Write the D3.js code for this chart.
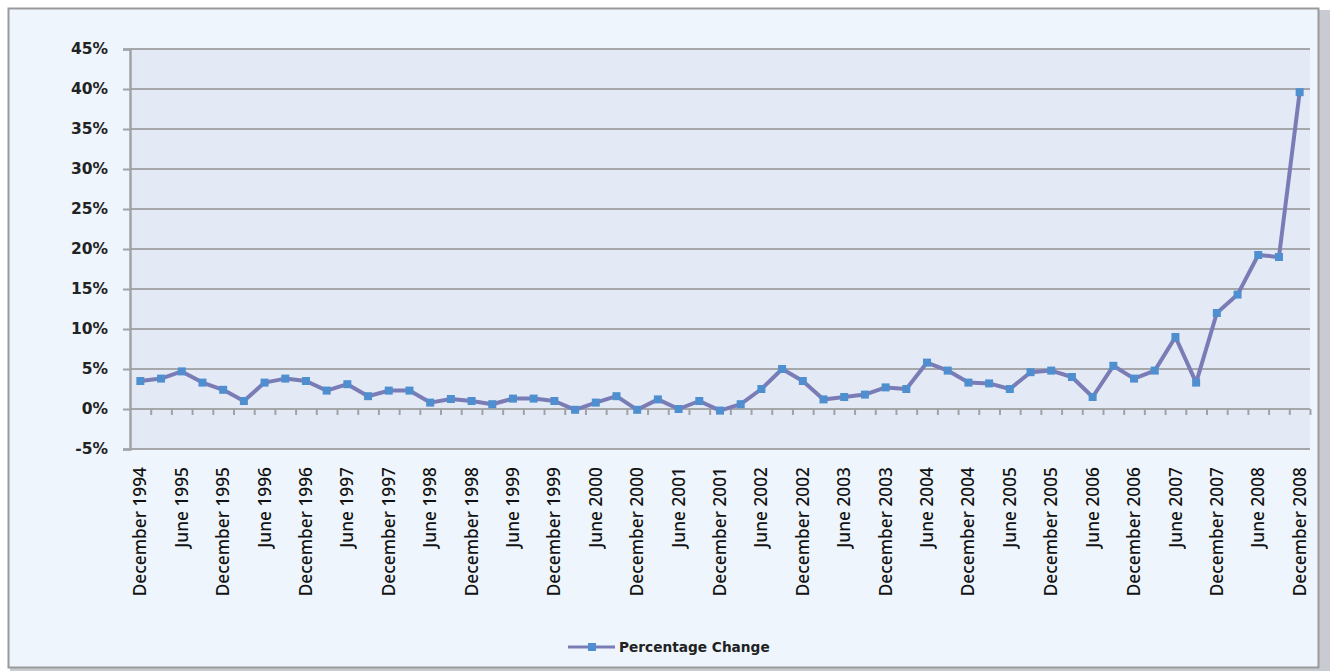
<!DOCTYPE html>
<html>
<head>
<meta charset="utf-8">
<script src="https://cdn.jsdelivr.net/npm/d3@7"></script>
<style>
  html, body { margin: 0; padding: 0; background: #ffffff; }
  svg { display: block; }
</style>
</head>
<body>
<svg id="chart" width="1330" height="671"></svg>
<script>
// ---- DATA ----
const years = d3.range(1995, 2009);
const quarterNames = ["March", "June", "September", "December"];
const categories = ["December 1994"].concat(
  ...years.map(y => quarterNames.map(q => q + " " + y))
);
const percentageChange = [
  3.5, 3.8, 4.7, 3.3, 2.4, 1.0, 3.3, 3.8, 3.5, 2.3,
  3.1, 1.6, 2.3, 2.3, 0.8, 1.25, 1.0, 0.6, 1.3, 1.3,
  1.0, -0.1, 0.8, 1.6, -0.1, 1.2, 0.0, 1.0, -0.2, 0.6,
  2.5, 5.0, 3.5, 1.2, 1.5, 1.8, 2.7, 2.5, 5.8, 4.8,
  3.3, 3.2, 2.5, 4.6, 4.8, 4.0, 1.5, 5.4, 3.8, 4.8,
  9.0, 3.3, 12.0, 14.3, 19.25, 19.0, 39.6
];
const yTicks = [-5, 0, 5, 10, 15, 20, 25, 30, 35, 40, 45];
const shownLabels = categories.filter(c => c.startsWith("December") || c.startsWith("June"));
const seriesName = "Percentage Change";

// ---- LAYOUT ----
const svg = d3.select("#chart");
const plot = { left: 130, right: 1310, top: 49, bottom: 449 };

// outer frame
svg.append("rect").attr("x", 1318).attr("y", 10).attr("width", 12).attr("height", 661)
  .attr("fill", "#c8ccd2");
svg.append("rect").attr("x", 10).attr("y", 667).attr("width", 1320).attr("height", 4)
  .attr("fill", "#c8ccd2");
svg.append("rect").attr("x", 8.5).attr("y", 8.5).attr("width", 1310).attr("height", 659)
  .attr("fill", "#eef5fc").attr("stroke", "#9a9a9a").attr("stroke-width", 2);

// plot background
svg.append("rect").attr("x", plot.left).attr("y", plot.top)
  .attr("width", plot.right - plot.left).attr("height", plot.bottom - plot.top)
  .attr("fill", "#e3eaf5");

const x = d3.scaleBand().domain(categories).range([plot.left, plot.right]).padding(0);
const xb = d3.scaleLinear().domain([0, categories.length]).range([plot.left, plot.right]);
const y = d3.scaleLinear().domain([-5, 45]).range([plot.bottom, plot.top]);
const cx = c => x(c) + x.bandwidth() / 2;

// gridlines
svg.append("g").selectAll("line").data(yTicks).join("line")
  .attr("x1", plot.left).attr("x2", plot.right)
  .attr("y1", d => y(d)).attr("y2", d => y(d))
  .attr("stroke", "#a5a7ab").attr("stroke-width", 2);

// y axis
const yAxis = svg.append("g").attr("transform", `translate(${plot.left},0)`)
  .call(d3.axisLeft(y).tickValues(yTicks).tickSize(7).tickPadding(15).tickFormat(d => d + "%"));
yAxis.select(".domain").attr("stroke", "#a0a2a6").attr("stroke-width", 2.5);
yAxis.selectAll(".tick line").attr("stroke", "#a0a2a6").attr("stroke-width", 2);
yAxis.selectAll("text")
  .attr("font-family", "DejaVu Sans, sans-serif").attr("font-weight", "bold")
  .attr("font-size", 15.5).attr("fill", "#222");

// zero axis tick marks at category boundaries
const zAxis = svg.append("g").attr("transform", `translate(0,${y(0)})`)
  .call(d3.axisBottom(xb).tickValues(d3.range(1, categories.length + 1)).tickSize(6).tickFormat(""));
zAxis.select(".domain").remove();
zAxis.selectAll(".tick line").attr("stroke", "#a0a2a6").attr("stroke-width", 2);

// category labels
const xAxis = svg.append("g").attr("transform", `translate(0,${plot.bottom})`)
  .call(d3.axisBottom(x).tickValues(shownLabels).tickSize(0));
xAxis.select(".domain").remove();
xAxis.selectAll("text")
  .attr("font-family", "Noto Sans, sans-serif").attr("font-size", 17.3).attr("fill", "#111")
  .attr("font-weight", 500)
  .attr("transform", "rotate(-90)")
  .attr("text-anchor", "end")
  .attr("dy", "0.35em")
  .attr("x", -18).attr("y", 0);

// line
const line = d3.line().x((d, i) => cx(categories[i])).y(d => y(d));
svg.append("path").datum(percentageChange)
  .attr("d", line).attr("fill", "none")
  .attr("stroke", "#7a7cb6").attr("stroke-width", 4).attr("stroke-linejoin", "round");

// markers
const ms = 8;
svg.append("g").selectAll("rect").data(percentageChange).join("rect")
  .attr("x", (d, i) => cx(categories[i]) - ms / 2)
  .attr("y", d => y(d) - ms / 2)
  .attr("width", ms).attr("height", ms)
  .attr("fill", "#4f8fd0");

// legend
const lg = svg.append("g");
lg.append("line").attr("x1", 568).attr("x2", 615).attr("y1", 647).attr("y2", 647)
  .attr("stroke", "#7a7cb6").attr("stroke-width", 3);
lg.append("rect").attr("x", 588).attr("y", 643).attr("width", 8).attr("height", 8).attr("fill", "#4f8fd0");
lg.append("text").attr("x", 619).attr("y", 652).text(seriesName)
  .attr("font-family", "DejaVu Sans, sans-serif").attr("font-weight", "bold")
  .attr("font-size", 13.7).attr("fill", "#222");
</script>
</body>
</html>
